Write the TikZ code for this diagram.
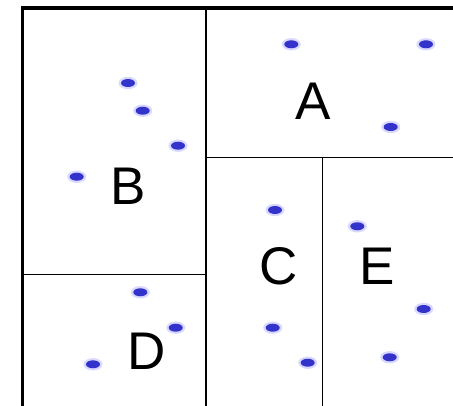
\documentclass[tikz,border=0pt]{standalone}
\usepackage{fontspec}
\setmainfont{Liberation Sans}
\begin{document}
\begin{tikzpicture}[x=1pt,y=-1pt,
  thin line/.style={line width=1.3pt,black},
  halo/.style={fill=blue!15},
  core/.style={fill={rgb,255:red,51;green,51;blue,204}},
  lbl/.style={font=\fontsize{53}{60}\selectfont,inner sep=0pt,anchor=center}]
\useasboundingbox (0,0) rectangle (453,406);
\clip (0,0) rectangle (453,406);
\fill[white] (0,0) rectangle (453,406);
% inner partitions
\draw[thin line] (206,8) -- (206,408);
\draw[thin line] (206,157.3) -- (455,157.3);
\draw[thin line] (322.7,157.3) -- (322.7,408);
\draw[thin line] (22,274.7) -- (206,274.7);
% outer border
\draw[line width=3.5pt,black] (22.5,7.8) rectangle (470,408.2);
% labels
\node[lbl] (A) at (312.7,100.8) {A};
\node[lbl] (B) at (128,185.8) {B};
\node[lbl] (C) at (278.3,266.7) {C};
\node[lbl] (E) at (376.7,266.7) {E};
\node[lbl] (D) at (146.7,350.8) {D};
% dots
\foreach \x/\y in {291.3/44.3, 426/44.3, 390.7/127,
  128/83, 142.7/110.7, 178/145.7, 76.7/176.7,
  140.3/292.3, 175.7/327.7, 93/364.3,
  275/210, 272.7/327.7, 307.7/362.7,
  357.3/226.3, 423.7/309, 389.7/357.3}
  {\fill[halo] (\x,\y) ellipse (9.5pt and 6.2pt);
   \fill[core] (\x,\y) ellipse (7pt and 4pt);}
\end{tikzpicture}
\end{document}
